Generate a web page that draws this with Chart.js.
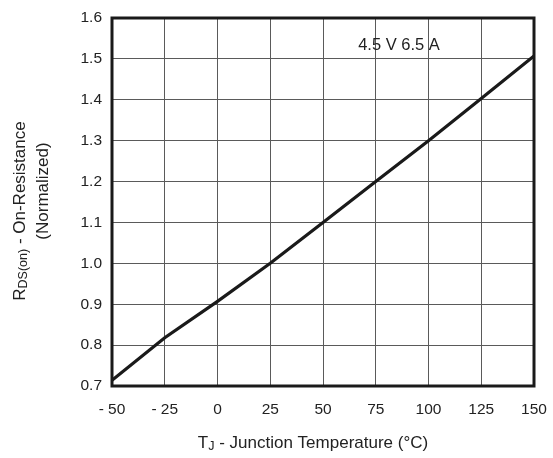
<!DOCTYPE html>
<html>
<head>
<meta charset="UTF-8">
<script src="https://cdn.jsdelivr.net/npm/chart.js"></script>
<style>
  * { margin:0; padding:0; }
  body { background:#fff; width:553px; height:458px; overflow:hidden; }
  #wrap { width:553px; height:458px; }
</style>
</head>
<body>
<div id="wrap"><canvas id="c" width="553" height="458"></canvas></div>
<script>
// Normalized on-resistance vs junction temperature
const temps = [-50, -25, 0, 25, 50, 75, 100, 125, 150];
const rdsNorm = [0.714, 0.818, 0.907, 1.0, 1.1, 1.2, 1.3, 1.403, 1.507];
const xTicks = [-50, -25, 0, 25, 50, 75, 100, 125, 150];
const yTicks = [0.7, 0.8, 0.9, 1.0, 1.1, 1.2, 1.3, 1.4, 1.5, 1.6];
const curveLabel = '4.5 V 6.5 A';

const FONT = '"Liberation Sans", Arial, sans-serif';
const INK = '#222';

// draws frame, annotation and axis titles (with subscripts)
const decor = {
  id: 'decor',
  afterDraw(chart) {
    const { ctx, chartArea: a, scales } = chart;
    ctx.save();
    ctx.strokeStyle = '#1a1a1a';
    ctx.lineWidth = 3;
    ctx.strokeRect(a.left, a.top, a.right - a.left, a.bottom - a.top);

    ctx.fillStyle = INK;
    ctx.font = '16.5px ' + FONT;
    ctx.textAlign = 'center';
    ctx.textBaseline = 'middle';
    ctx.fillText(curveLabel, scales.x.getPixelForValue(86), scales.y.getPixelForValue(1.532));

    // x title: T_J - Junction Temperature (°C)
    const parts = [['T', 17, 0], ['J', 12.5, 4], [' - Junction Temperature (°C)', 17, 0]];
    drawParts(ctx, parts, 313, 443);

    // y title, rotated
    ctx.translate(20, 211);
    ctx.rotate(-Math.PI / 2);
    drawParts(ctx, [['R', 17, 0], ['DS(on)', 12.5, 4], [' - On-Resistance', 17, 0]], 0, 0);
    ctx.restore();
    ctx.save();
    ctx.translate(43, 191);
    ctx.rotate(-Math.PI / 2);
    drawParts(ctx, [['(Normalized)', 17, 0]], 0, 0);
    ctx.restore();
  }
};

function drawParts(ctx, parts, cx, cy) {
  let w = 0;
  parts.forEach(p => { ctx.font = p[1] + 'px ' + FONT; w += ctx.measureText(p[0]).width; });
  let x = cx - w / 2;
  ctx.textAlign = 'left';
  ctx.textBaseline = 'middle';
  ctx.fillStyle = INK;
  parts.forEach(p => {
    ctx.font = p[1] + 'px ' + FONT;
    ctx.fillText(p[0], x, cy + p[2]);
    x += ctx.measureText(p[0]).width;
  });
}

new Chart(document.getElementById('c'), {
  type: 'line',
  data: {
    datasets: [{
      data: temps.map((t, i) => ({ x: t, y: rdsNorm[i] })),
      borderColor: '#1a1a1a',
      borderWidth: 3.2,
      pointRadius: 0,
      tension: 0,
      fill: false
    }]
  },
  options: {
    responsive: false,
    animation: false,
    devicePixelRatio: 1,
    layout: { padding: { top: 18, right: 19, left: 0, bottom: 0 } },
    plugins: { legend: { display: false }, tooltip: { enabled: false } },
    scales: {
      x: {
        type: 'linear',
        min: -50, max: 150,
        afterBuildTicks: s => { s.ticks = xTicks.map(v => ({ value: v })); },
        afterFit: s => { s.height = 72; s.paddingRight = 0; s.paddingLeft = 0; },
        grid: { color: '#5a5a5a', lineWidth: 1, drawTicks: false },
        border: { display: false },
        ticks: {
          color: INK, padding: 14,
          font: { family: FONT, size: 15.5 },
          callback: v => v < 0 ? '- ' + Math.abs(v) : String(v)
        }
      },
      y: {
        min: 0.7, max: 1.6,
        afterBuildTicks: s => { s.ticks = yTicks.map(v => ({ value: v })); },
        afterFit: s => { s.width = 112; s.paddingTop = 0; s.paddingBottom = 0; },
        grid: { color: '#5a5a5a', lineWidth: 1, drawTicks: false },
        border: { display: false },
        ticks: {
          color: INK, padding: 10,
          font: { family: FONT, size: 15.5 },
          callback: v => v.toFixed(1)
        }
      }
    }
  },
  plugins: [decor]
});
</script>
</body>
</html>
